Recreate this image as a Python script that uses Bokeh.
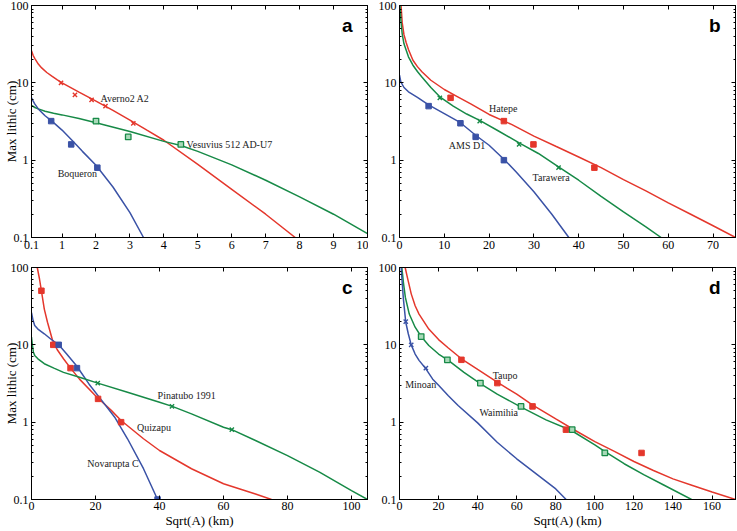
from bokeh.plotting import figure
from bokeh.models import (Range1d, FixedTicker, CustomJSTickFormatter, LinearAxis,
                          LogAxis, Label, ColumnDataSource)
from bokeh.layouts import column, row
from bokeh.embed import file_html
from bokeh.resources import INLINE
from bokeh.core.properties import value

# ---------------- panel a ----------------
averno_curve_x = [0.1, 0.15, 0.2, 0.3, 0.4, 0.55, 0.7, 0.85, 1.0, 1.5, 2.0, 2.5, 3.0, 3.5, 4.0, 5.0, 6.0, 7.0, 7.87]
averno_curve_y = [26, 22.5, 20.6, 17.5, 15.6, 13.6, 12.2, 11.0, 10.0, 7.6, 5.8, 4.4, 3.3, 2.44, 1.81, 0.88, 0.42, 0.2, 0.1]
vesuvius_curve_x = [0.1, 0.2, 0.3, 0.5, 0.75, 1.0, 1.5, 2.0, 3.0, 4.0, 4.5, 5.0, 6.0, 7.0, 8.0, 9.0, 10.0]
vesuvius_curve_y = [5.1, 4.8, 4.6, 4.3, 4.05, 3.85, 3.45, 3.05, 2.35, 1.75, 1.55, 1.3, 0.87, 0.55, 0.335, 0.2, 0.112]
boqueron_curve_x = [0.1, 0.15, 0.2, 0.3, 0.5, 0.7, 1.0, 1.3, 1.6, 2.0, 2.5, 3.0, 3.4]
boqueron_curve_y = [6.4, 5.8, 5.3, 4.6, 3.75, 3.2, 2.45, 1.8, 1.3, 0.86, 0.45, 0.21, 0.1]

averno_x = [0.97, 1.38, 1.87, 2.28, 3.1]
averno_y = [10, 7, 6, 5, 3]
vesuvius_x = [2.0, 2.95, 4.5]
vesuvius_y = [3.2, 2.0, 1.6]
boqueron_x = [0.68, 1.27, 2.04]
boqueron_y = [3.2, 1.6, 0.8]

a_label_text = ["Averno2 A2", "Vesuvius 512 AD-U7", "Boqueron"]
a_label_x = [2.13, 4.67, 0.87]
a_label_y = [6.2, 1.6, 0.68]

# ---------------- panel b ----------------
hatepe_curve_x = [0.35, 0.6, 1.0, 1.5, 2, 3, 4, 5, 7, 10, 13, 16, 20, 25, 30, 35, 40, 45, 50, 55, 60, 65, 70, 75]
hatepe_curve_y = [100, 60, 42, 33, 27, 19.6, 16.2, 13.9, 10.8, 8.2, 6.6, 5.3, 3.9, 2.9, 2.05, 1.5, 1.1, 0.8, 0.56, 0.4, 0.28, 0.2, 0.142, 0.1]
tarawera_curve_x = [0.12, 0.3, 0.6, 1, 2, 3, 4, 5, 7, 9, 12, 15, 18, 22, 27, 31, 35.5, 40, 45, 50, 55, 58.4]
tarawera_curve_y = [100, 65, 43, 32, 21.7, 16.9, 14.0, 11.9, 8.7, 6.6, 5.0, 3.95, 3.25, 2.4, 1.64, 1.22, 0.82, 0.55, 0.34, 0.215, 0.137, 0.1]
ams_curve_x = [0, 0.3, 1, 2, 4, 6.5, 10, 13.6, 17, 20, 23.3, 26, 30, 34, 37.8]
ams_curve_y = [12.6, 10.3, 8.7, 7.65, 6.5, 5.2, 4.0, 3.05, 2.1, 1.56, 1.03, 0.71, 0.39, 0.2, 0.1]

hatepe_x = [11.4, 23.3, 29.9, 43.5]
hatepe_y = [6.4, 3.2, 1.6, 0.8]
tarawera_x = [9.0, 17.9, 26.7, 35.5]
tarawera_y = [6.4, 3.2, 1.6, 0.8]
ams_x = [6.5, 13.6, 17.0, 23.3]
ams_y = [5, 3, 2, 1]

b_label_text = ["Hatepe", "AMS D1", "Tarawera"]
b_label_x = [20.0, 11.0, 29.7]
b_label_y = [4.6, 1.53, 0.59]

# ---------------- panel c ----------------
quizapu_curve_x = [1.8, 2.5, 3.1, 4, 5, 6.5, 8, 10, 12.2, 15, 20, 25, 28, 35, 40, 50, 60, 70, 75]
quizapu_curve_y = [100, 71, 50, 29, 19.6, 11.7, 8.7, 6.6, 5.0, 3.6, 2.2, 1.41, 1.05, 0.61, 0.43, 0.25, 0.16, 0.118, 0.1]
novarupta_curve_x = [0, 0.5, 1, 2, 4, 6, 8.5, 11, 14, 18, 22, 26, 30, 35, 39.4]
novarupta_curve_y = [26, 20.6, 17.8, 16, 13.9, 11.9, 10.0, 7.6, 5.4, 3.1, 1.9, 1.16, 0.61, 0.25, 0.1]
pinatubo_curve_x = [0, 0.3, 0.6, 1, 2, 4, 7, 10, 15, 20.7, 30, 40, 44, 50, 60, 62.6, 70, 80, 90, 100, 105]
pinatubo_curve_y = [12.6, 9.8, 8.0, 7.3, 6.6, 5.7, 5.0, 4.4, 3.8, 3.2, 2.44, 1.81, 1.6, 1.28, 0.86, 0.8, 0.58, 0.37, 0.226, 0.13, 0.1]

quizapu_x = [3.1, 6.8, 12.2, 20.8, 28.0]
quizapu_y = [50, 10, 5, 2, 1]
novarupta_x = [8.5, 14.2, 39.4]
novarupta_y = [10, 5, 0.1]
pinatubo_x = [20.7, 43.9, 62.6]
pinatubo_y = [3.2, 1.6, 0.8]

c_label_text = ["Pinatubo 1991", "Quizapu", "Novarupta C"]
c_label_x = [39.4, 33.0, 17.4]
c_label_y = [2.2, 0.85, 0.295]

# ---------------- panel d ----------------
taupo_curve_x = [2.9, 4, 6, 8, 10, 15, 20, 25, 31.7, 40, 50, 60, 68, 80, 90, 100, 110, 120, 130, 140, 150, 160, 172]
taupo_curve_y = [100, 75, 45.6, 32, 25, 16, 11.7, 9.1, 6.6, 4.8, 3.3, 2.3, 1.67, 1.1, 0.78, 0.56, 0.42, 0.31, 0.237, 0.185, 0.152, 0.125, 0.1]
waimihia_curve_x = [1.2, 2, 3, 5, 8, 11, 15, 20, 25, 33, 41, 50, 62, 75, 88, 100, 105, 115, 125, 135, 149.5]
waimihia_curve_y = [100, 64, 41, 25, 16.9, 12.9, 9.8, 7.6, 6.3, 4.4, 3.2, 2.3, 1.58, 1.07, 0.78, 0.51, 0.42, 0.29, 0.21, 0.155, 0.1]
minoan_curve_x = [0.85, 1.5, 2, 3.2, 4.5, 6, 8, 10, 13.5, 17, 20, 25, 30, 40, 50, 60, 70, 80, 85.3]
minoan_curve_y = [100, 58, 39, 19.6, 13.9, 10, 7.6, 6.3, 4.9, 3.6, 3.0, 2.2, 1.64, 0.98, 0.55, 0.336, 0.215, 0.137, 0.1]

taupo_x = [31.7, 50.1, 68.1, 85.2, 123.9]
taupo_y = [6.4, 3.2, 1.6, 0.8, 0.4]
waimihia_x = [11.1, 24.5, 41.4, 62.2, 88.4, 105.1]
waimihia_y = [12.8, 6.4, 3.2, 1.6, 0.8, 0.4]
minoan_x = [3.2, 6.0, 13.5]
minoan_y = [20, 10, 5]

d_label_text = ["Taupo", "Minoan", "Waimihia"]
d_label_x = [47.7, 2.9, 40.9]
d_label_y = [4.0, 3.04, 1.35]

# ---------------- axes ----------------
a_xticks = [0.1, 1, 2, 3, 4, 5, 6, 7, 8, 9, 10]
b_xticks = [0, 10, 20, 30, 40, 50, 60, 70]
c_xticks = [0, 20, 40, 60, 80, 100]
d_xticks = [0, 20, 40, 60, 80, 100, 120, 140, 160]
y_major = [0.1, 1, 10, 100]
y_minor = [0.2, 0.3, 0.4, 0.5, 0.6, 0.7, 0.8, 0.9,
           2, 3, 4, 5, 6, 7, 8, 9,
           20, 30, 40, 50, 60, 70, 80, 90]

RED = "#e4372c"
GREEN = "#178a47"
BLUE = "#3a52a6"
SERIF = "Liberation Serif"
FRAME_W, FRAME_H = 336, 232


def style_axis(ax, show_labels=True):
    ax.axis_line_color = "black"
    ax.axis_line_width = 1
    ax.major_tick_line_color = "black"
    ax.minor_tick_line_color = "black"
    ax.major_tick_in = 4
    ax.major_tick_out = 0
    ax.minor_tick_in = 2
    ax.minor_tick_out = 0
    if show_labels:
        ax.major_label_text_font = SERIF
        ax.major_label_text_font_size = "12px"
        ax.major_label_text_color = "black"
        ax.major_label_standoff = 3
        ax.formatter = CustomJSTickFormatter(code="return String(Math.round(tick * 10) / 10);")
        ax.axis_label_text_font = SERIF
        ax.axis_label_text_font_size = "13px"
        ax.axis_label_text_font_style = "normal"
        ax.axis_label_text_color = "black"
    else:
        ax.major_label_text_font_size = "0px"
        ax.major_label_standoff = 0
        ax.formatter = CustomJSTickFormatter(code="return '';")


def make_panel(xr, xticks, letter, border_bottom, border_right, ylabel=False, xlabel=False):
    p = figure(frame_width=FRAME_W, frame_height=FRAME_H,
               x_range=Range1d(*xr), y_range=Range1d(0.1, 100), y_axis_type="log",
               output_backend="svg", toolbar_location=None,
               min_border_left=31, min_border_right=border_right,
               min_border_top=5, min_border_bottom=border_bottom,
               background_fill_color="white", border_fill_color="white",
               outline_line_color="black", outline_line_width=1)
    p.grid.visible = False

    p.xaxis.ticker = FixedTicker(ticks=xticks, minor_ticks=[])
    p.yaxis.ticker = FixedTicker(ticks=y_major, minor_ticks=y_minor)
    for ax in p.xaxis:
        style_axis(ax)
    for ax in p.yaxis:
        style_axis(ax)

    if ylabel:
        p.yaxis.axis_label = "Max lithic (cm)"
        p.yaxis.axis_label_standoff = -11
    if xlabel:
        p.xaxis.axis_label = "Sqrt(A) (km)"
        p.xaxis.axis_label_standoff = 0
        p.xaxis.major_label_standoff = 2

    top = LinearAxis(ticker=FixedTicker(ticks=xticks, minor_ticks=[]))
    style_axis(top, show_labels=False)
    p.add_layout(top, "above")
    right = LogAxis(ticker=FixedTicker(ticks=y_major, minor_ticks=y_minor))
    style_axis(right, show_labels=False)
    p.add_layout(right, "right")

    p.add_layout(Label(x=FRAME_W - 15, y=FRAME_H - 9, x_units="screen", y_units="screen",
                       text=letter, text_font="Liberation Sans", text_font_style="bold",
                       text_font_size="19px", text_align="right", text_baseline="top",
                       text_color="black"))
    return p


def add_curve(p, xs, ys, color):
    p.line(xs, ys, line_color=color, line_width=1.5)


def add_points(p, xs, ys, color, kind):
    if kind == "x":
        p.scatter(xs, ys, marker="x", size=6, line_color=color, line_width=1.4)
    elif kind == "open":
        p.scatter(xs, ys, marker="square", size=5.5, line_color=color, line_width=1.3,
                  fill_color="#a8d9b8")
    else:
        p.scatter(xs, ys, marker="square", size=5.5, line_color=color, line_width=1,
                  fill_color=color)


def add_labels(p, texts, xs, ys):
    src = ColumnDataSource(dict(x=xs, y=ys, t=texts))
    p.text("x", "y", text="t", source=src, text_font=value(SERIF),
           text_font_size="10px", text_color="#222222",
           text_align="left", text_baseline="middle")


# panel a
pa = make_panel((0.1, 10), a_xticks, "a", 25, 1, ylabel=True)
add_curve(pa, averno_curve_x, averno_curve_y, RED)
add_curve(pa, vesuvius_curve_x, vesuvius_curve_y, GREEN)
add_curve(pa, boqueron_curve_x, boqueron_curve_y, BLUE)
add_points(pa, averno_x, averno_y, RED, "x")
add_points(pa, vesuvius_x, vesuvius_y, GREEN, "open")
add_points(pa, boqueron_x, boqueron_y, BLUE, "filled")
add_labels(pa, a_label_text, a_label_x, a_label_y)

# panel b
pb = make_panel((0, 75), b_xticks, "b", 25, 2)
add_curve(pb, hatepe_curve_x, hatepe_curve_y, RED)
add_curve(pb, tarawera_curve_x, tarawera_curve_y, GREEN)
add_curve(pb, ams_curve_x, ams_curve_y, BLUE)
add_points(pb, hatepe_x, hatepe_y, RED, "filled")
add_points(pb, tarawera_x, tarawera_y, GREEN, "x")
add_points(pb, ams_x, ams_y, BLUE, "filled")
add_labels(pb, b_label_text, b_label_x, b_label_y)

# panel c
pc = make_panel((0, 105), c_xticks, "c", 32, 1, ylabel=True, xlabel=True)
add_curve(pc, quizapu_curve_x, quizapu_curve_y, RED)
add_curve(pc, novarupta_curve_x, novarupta_curve_y, BLUE)
add_curve(pc, pinatubo_curve_x, pinatubo_curve_y, GREEN)
add_points(pc, quizapu_x, quizapu_y, RED, "filled")
add_points(pc, novarupta_x, novarupta_y, BLUE, "filled")
add_points(pc, pinatubo_x, pinatubo_y, GREEN, "x")
add_labels(pc, c_label_text, c_label_x, c_label_y)

# panel d
pd_ = make_panel((0, 172), d_xticks, "d", 32, 2, xlabel=True)
add_curve(pd_, taupo_curve_x, taupo_curve_y, RED)
add_curve(pd_, waimihia_curve_x, waimihia_curve_y, GREEN)
add_curve(pd_, minoan_curve_x, minoan_curve_y, BLUE)
add_points(pd_, taupo_x, taupo_y, RED, "filled")
add_points(pd_, waimihia_x, waimihia_y, GREEN, "open")
add_points(pd_, minoan_x, minoan_y, BLUE, "x")
add_labels(pd_, d_label_text, d_label_x, d_label_y)

layout = column(row(pa, pb), row(pc, pd_))

with open("out.html", "w") as f:
    f.write(file_html(layout, INLINE))
